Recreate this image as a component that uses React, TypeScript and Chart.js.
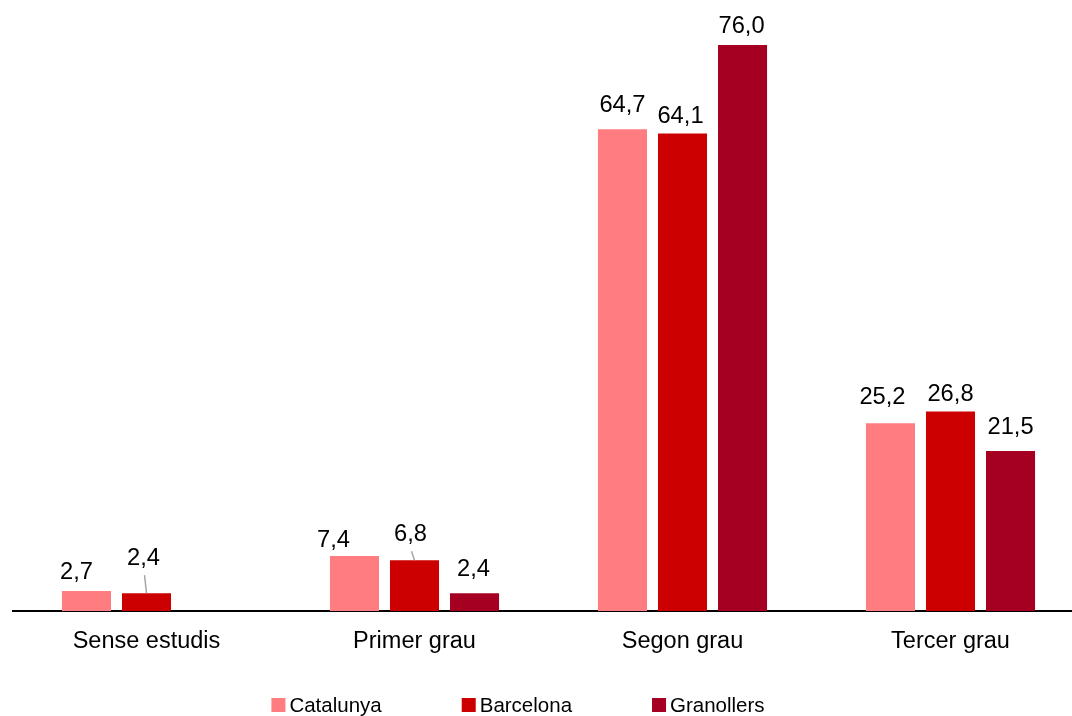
import React, { useEffect, useRef } from "react";
import { Chart, registerables } from "chart.js";

Chart.register(...registerables);

const categories = ["Sense estudis", "Primer grau", "Segon grau", "Tercer grau"];
const seriesNames = ["Catalunya", "Barcelona", "Granollers"];
const catalunya = [2.7, 7.4, 64.7, 25.2];
const barcelona = [2.4, 6.8, 64.1, 26.8];
const granollers: (number | null)[] = [null, 2.4, 76.0, 21.5];
const colors = ["#FF7C80", "#CC0000", "#A50021"];

// label placement tweaks (style only): gap above bar top, horizontal shift, leader line flag
const labelGap = [
  [12, 9, 17, 19],
  [28, 19, 11, 10],
  [0, 17, 12, 17],
];
const labelDx = [
  [-10, -21, 0, -8],
  [-3, -4, -2, 0],
  [0, -1, -1, 0],
];
const leader = [
  [false, false, false, false],
  [true, true, false, false],
  [false, false, false, false],
];

const FONT = "'Liberation Sans', Arial, sans-serif";

const fmt = (v: number) => v.toFixed(1).replace(".", ",");

const labelPlugin = {
  id: "valueLabels",
  afterDatasetsDraw(chart: any) {
    const ctx = chart.ctx;
    ctx.save();
    ctx.font = `23.7px ${FONT}`;
    ctx.fillStyle = "#000";
    ctx.textAlign = "center";
    ctx.textBaseline = "alphabetic";
    chart.data.datasets.forEach((ds: any, di: number) => {
      const meta = chart.getDatasetMeta(di);
      meta.data.forEach((bar: any, i: number) => {
        const v = ds.data[i];
        if (v === null || v === undefined) return;
        const x = bar.x + labelDx[di][i];
        const y = bar.y - labelGap[di][i];
        ctx.fillText(fmt(v), x, y);
        if (leader[di][i]) {
          ctx.strokeStyle = "#A6A6A6";
          ctx.lineWidth = 1.5;
          ctx.beginPath();
          ctx.moveTo(x + 1, y + 10);
          ctx.lineTo(bar.x, bar.y);
          ctx.stroke();
        }
      });
    });
    ctx.restore();
  },
};

const legendPlugin = {
  id: "customLegend",
  afterDraw(chart: any) {
    const ctx = chart.ctx;
    ctx.save();
    ctx.font = `20.5px ${FONT}`;
    ctx.textBaseline = "alphabetic";
    ctx.textAlign = "left";
    const box = 14;
    const gapText = 4;
    const gapItem = 80;
    const widths = seriesNames.map((n) => ctx.measureText(n).width);
    const total =
      widths.reduce((a, b) => a + box + gapText + b, 0) + gapItem * (seriesNames.length - 1);
    let x = 518 - total / 2;
    const yBase = 712;
    seriesNames.forEach((n, i) => {
      ctx.fillStyle = colors[i];
      ctx.fillRect(x, 698, box, box);
      ctx.fillStyle = "#000";
      ctx.fillText(n, x + box + gapText, yBase);
      x += box + gapText + widths[i] + gapItem;
    });
    ctx.restore();
  },
};

export default function App() {
  const ref = useRef<HTMLCanvasElement>(null);
  useEffect(() => {
    if (!ref.current) return;
    const chart = new Chart(ref.current, {
      type: "bar",
      data: {
        labels: categories,
        datasets: [
          { label: seriesNames[0], data: catalunya, backgroundColor: colors[0] },
          { label: seriesNames[1], data: barcelona, backgroundColor: colors[1] },
          { label: seriesNames[2], data: granollers, backgroundColor: colors[2] },
        ],
      },
      options: {
        responsive: false,
        animation: false,
        devicePixelRatio: 1,
        layout: { padding: { left: 12.5, right: 15.5, top: 15.2, bottom: 0 } },
        datasets: {
          bar: { categoryPercentage: 0.672, barPercentage: 0.817, borderWidth: 0 },
        },
        plugins: {
          legend: { display: false },
          tooltip: { enabled: false },
          title: { display: false },
        },
        scales: {
          x: {
            grid: { display: false, drawTicks: false },
            border: { display: true, color: "#000", width: 2 },
            ticks: {
              color: "#000",
              padding: 16,
              font: { family: FONT, size: 23.5 },
            },
            afterFit: (s: any) => {
              s.height = 105;
            },
          },
          y: {
            display: false,
            min: 0,
            max: 80,
          },
        },
      },
      plugins: [labelPlugin, legendPlugin],
    });
    return () => chart.destroy();
  }, []);
  return (
    <div style={{ position: "fixed", left: 0, top: 0, width: 1100, height: 716, background: "#fff" }}>
      <canvas ref={ref} width={1100} height={716} style={{ display: "block" }} />
    </div>
  );
}
